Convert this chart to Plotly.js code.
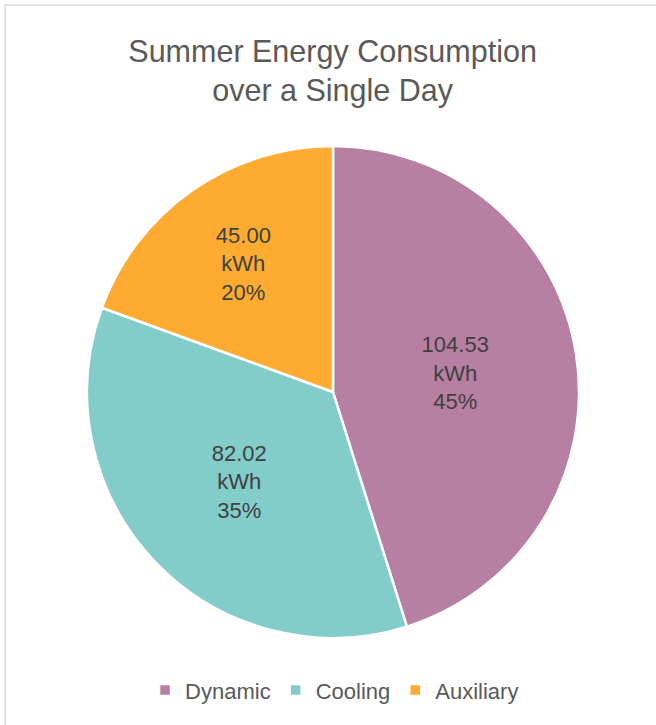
<!DOCTYPE html>
<html>
<head>
<meta charset="utf-8">
<script src="https://cdn.plot.ly/plotly-3.0.1.min.js"></script>
<style>html,body{margin:0;padding:0;background:#fff}#chart{width:656px;height:725px}</style>
</head>
<body>
<div id="chart"></div>
<script>
const categories = ["Dynamic", "Cooling", "Auxiliary"];
const energyKWh = [104.53, 82.02, 45.00];
const percentLabels = ["45%", "35%", "20%"];
const colors = ["#B77FA2", "#82CDCA", "#FDAC31"];

const trace = {
  type: "pie",
  labels: categories,
  values: energyKWh,
  text: percentLabels,
  sort: false,
  direction: "clockwise",
  rotation: 0,
  marker: {colors: colors, line: {color: "#FFFFFF", width: 2.5}},
  texttemplate: "%{value:.2f}<br>kWh<br>%{text}",
  textposition: "inside",
  insidetextorientation: "horizontal",
  textfont: {family: "Arial, 'Liberation Sans', sans-serif", size: 22, color: "#404040"},
  hoverinfo: "label+value+percent",
  domain: {x: [0.1326, 0.8826], y: [0.12, 0.7986]}
};

const layout = {
  width: 656, height: 725,
  margin: {l: 0, r: 0, t: 0, b: 0},
  paper_bgcolor: "#FFFFFF",
  font: {family: "Arial, 'Liberation Sans', sans-serif", color: "#595959"},
  title: {
    text: "Summer Energy Consumption<br>over a Single Day",
    font: {size: 30.5, color: "#595959", family: "Arial, 'Liberation Sans', sans-serif"},
    x: 0.507, xanchor: "center", y: 0.915, yanchor: "middle"
  },
  showlegend: true,
  legend: {
    orientation: "h", x: 0.51, xanchor: "center", y: 0.048, yanchor: "middle",
    font: {size: 22, color: "#595959"}, itemwidth: 30, traceorder: "normal"
  },
  shapes: [{
    type: "rect", xref: "paper", yref: "paper",
    x0: 5/656, x1: 1.05, y0: -0.05, y1: 1 - 5/725,
    line: {color: "#D9D9D9", width: 1.5}
  }]
};

Plotly.newPlot("chart", [trace], layout, {displayModeBar: false, staticPlot: true});
</script>
</body>
</html>
